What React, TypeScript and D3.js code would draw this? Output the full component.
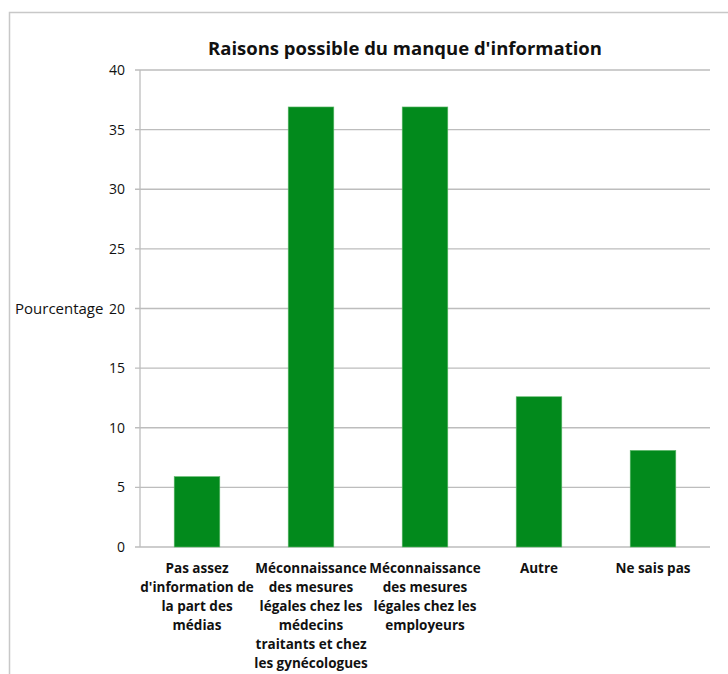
import React from "react";
import * as d3 from "d3";

const categories: string[][] = [
  ["Pas assez", "d'information de", "la part des", "médias"],
  ["Méconnaissance", "des mesures", "légales chez les", "médecins", "traitants et chez", "les gynécologues"],
  ["Méconnaissance", "des mesures", "légales chez les", "employeurs"],
  ["Autre"],
  ["Ne sais pas"],
];
const values: number[] = [5.9, 36.9, 36.9, 12.6, 8.1];
const yTicks: number[] = [0, 5, 10, 15, 20, 25, 30, 35, 40];
const title = "Raisons possible du manque d'information";
const yLabel = "Pourcentage";

export default function App() {
  const W = 728, H = 674;
  const left = 140, right = 710, top = 70, bottom = 547;
  const x = d3.scaleBand<number>().domain(d3.range(values.length)).range([left, right]).paddingInner(0.6).paddingOuter(0.3);
  const y = d3.scaleLinear().domain([0, 40]).range([bottom, top]);
  const font = "'Open Sans', sans-serif";
  return (
    <svg width={W} height={H} style={{ position: "absolute", left: 0, top: 0, background: "#fff" }} fontFamily={font}>
      <rect x={0} y={0} width={W} height={H} fill="#fff" />
      <path d={`M9.5,${H} V12.5 H${W}`} fill="none" stroke="#c8c8c8" strokeWidth={1.5} />
      <text x={405} y={55} textAnchor="middle" fontSize={18.5} fontWeight={700} fill="#111">{title}</text>
      {yTicks.map((t) => (
        <g key={t}>
          <line x1={135} x2={right} y1={y(t)} y2={y(t)} stroke="#bdbdbd" strokeWidth={1.3} />
          <text x={125} y={y(t) + 5} textAnchor="end" fontSize={14} fill="#111">{t}</text>
        </g>
      ))}
      <line x1={left} x2={left} y1={top} y2={bottom} stroke="#bdbdbd" strokeWidth={1.3} />
      <text x={15} y={y(20) + 5} fontSize={15} fill="#111">{yLabel}</text>
      {values.map((v, i) => (
        <rect key={i} x={x(i)!} y={y(v)} width={x.bandwidth()} height={bottom - y(v)} fill="#028a1c" stroke="#5fb86a" strokeWidth={0.6} />
      ))}
      {categories.map((lines, i) => (
        <text key={i} textAnchor="middle" fontSize={13.5} fontWeight={700} fill="#111">
          {lines.map((ln, j) => (
            <tspan key={j} x={x(i)! + x.bandwidth() / 2} y={573 + j * 19}>{ln}</tspan>
          ))}
        </text>
      ))}
    </svg>
  );
}
